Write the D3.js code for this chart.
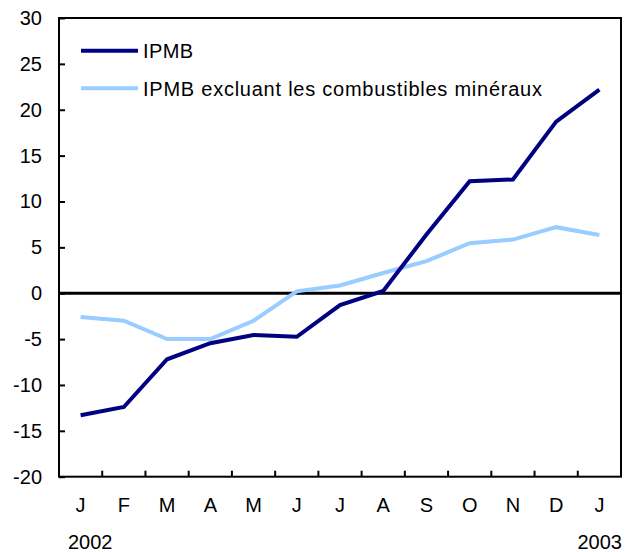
<!DOCTYPE html>
<html><head><meta charset="utf-8">
<script src="https://cdn.jsdelivr.net/npm/d3@7"></script>
<style>body{margin:0;background:#fff}svg{display:block}text{font-family:"Liberation Sans",Arial,sans-serif;fill:#000}</style>
</head><body>
<svg id="c" width="633" height="552"></svg>
<script>
const months = ["J","F","M","A","M","J","J","A","S","O","N","D","J"];
const ipmb = [-13.3,-12.4,-7.2,-5.45,-4.55,-4.75,-1.3,0.25,6.4,12.2,12.4,18.7,22.2];
const ipmbExcl = [-2.6,-3.0,-5.0,-5.0,-3.0,0.2,0.85,2.2,3.5,5.45,5.85,7.2,6.35];
const yTicks = [-20,-15,-10,-5,0,5,10,15,20,25,30];
const years = ["2002","2003"];
const seriesNames = ["IPMB","IPMB excluant les combustibles minéraux"];
const colors = ["#000080","#99ccff"];

const L=59, R=621, T=18, B=476.7, FS=20;
const svg = d3.select("#c");
const x = d3.scaleBand().domain(d3.range(months.length)).range([L,R]);
const y = d3.scaleLinear().domain([-20,30]).range([B,T]);
const cx = i => x(i)+x.bandwidth()/2;

// y axis ticks (inside)
const ya = svg.append("g").attr("transform",`translate(${L},0)`)
  .call(d3.axisLeft(y).tickValues(yTicks).tickSize(-6).tickPadding(17).tickFormat(d=>String(d)));
ya.select(".domain").remove();
ya.selectAll("line").attr("stroke","#000").attr("stroke-width",2);
ya.selectAll("text").attr("font-size",FS).attr("font-family","Liberation Sans, Arial, sans-serif");

// x axis ticks between categories (inside)
const boundaries = d3.range(1,months.length).map(i=>x(i));
svg.append("g").selectAll("line").data(boundaries).join("line")
  .attr("x1",d=>d).attr("x2",d=>d).attr("y1",B).attr("y2",B-6)
  .attr("stroke","#000").attr("stroke-width",2);
svg.append("g").selectAll("text").data(months).join("text")
  .attr("x",(d,i)=>cx(i)).attr("y",512).attr("text-anchor","middle")
  .attr("font-size",FS).text(d=>d);
svg.append("text").attr("x",68).attr("y",549).attr("font-size",FS).text(years[0]);
svg.append("text").attr("x",R+1).attr("y",549).attr("text-anchor","end").attr("font-size",FS).text(years[1]);

// frame
svg.append("rect").attr("x",L).attr("y",T).attr("width",R-L).attr("height",B-T)
  .attr("fill","none").attr("stroke","#000").attr("stroke-width",2);
// zero line
svg.append("line").attr("x1",L).attr("x2",R).attr("y1",y(0)).attr("y2",y(0))
  .attr("stroke","#000").attr("stroke-width",3);

const line = d3.line().x((d,i)=>cx(i)).y(d=>y(d));
[ipmbExcl, ipmb].forEach((s,k)=>{
  const ci = k===0?1:0;
  svg.append("path").datum(s).attr("d",line).attr("fill","none")
    .attr("stroke",colors[ci]).attr("stroke-width",4).attr("stroke-linejoin","miter");
});

// legend
const legY = [50.7, 88.3];
const legLen = [50, 399];
seriesNames.forEach((n,i)=>{
  svg.append("line").attr("x1",81).attr("x2",138).attr("y1",legY[i]).attr("y2",legY[i])
    .attr("stroke",colors[i]).attr("stroke-width",4);
  svg.append("text").attr("x",143).attr("y",legY[i]).attr("dy","0.36em").attr("font-size",FS)
    .attr("textLength",legLen[i]).attr("lengthAdjust","spacing").text(n);
});
</script>
</body></html>
